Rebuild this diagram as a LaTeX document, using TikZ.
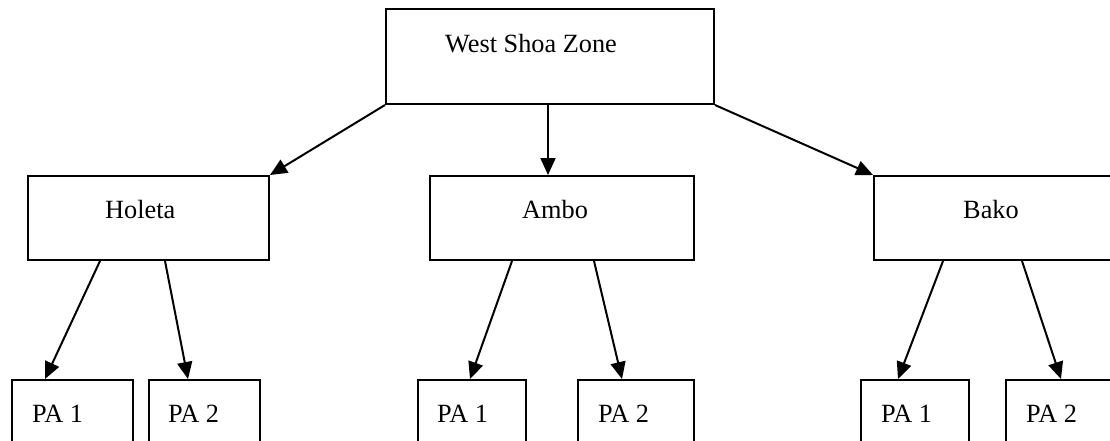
\documentclass[tikz,border=0pt]{standalone}
\usepackage{fontspec}
\setmainfont{Liberation Serif}
\usetikzlibrary{arrows.meta}
\begin{document}
\begin{tikzpicture}[x=1pt,y=-1pt,
  box/.style={draw=black,line width=2pt,inner sep=0pt,anchor=north west},
  lbl/.style={inner sep=0pt,anchor=base west,font=\fontsize{26.3}{30}\selectfont},
  conn/.style={line width=2pt,-{Triangle[length=17pt,width=15pt]}}]
\useasboundingbox (0,0) rectangle (1110,440);
\clip (0,0) rectangle (1110,440);
\fill[white] (0,0) rectangle (1110,440);
% boxes
\node[box,minimum width=328pt,minimum height=95pt] (ws) at (385,8) {};
\node[box,minimum width=241pt,minimum height=84pt] (holeta) at (27,175) {};
\node[box,minimum width=264pt,minimum height=84pt] (ambo) at (429,175) {};
\node[box,minimum width=245pt,minimum height=84pt] (bako) at (873,175) {};
\node[box,minimum width=121pt,minimum height=70pt] (h1) at (11,379) {};
\node[box,minimum width=111pt,minimum height=70pt] (h2) at (148,379) {};
\node[box,minimum width=108pt,minimum height=70pt] (a1) at (417,379) {};
\node[box,minimum width=116pt,minimum height=70pt] (a2) at (577,379) {};
\node[box,minimum width=108pt,minimum height=70pt] (b1) at (860,379) {};
\node[box,minimum width=113pt,minimum height=70pt] (b2) at (1005,379) {};
% labels
\node[lbl] (wst) at (445,52) {West Shoa Zone};
\node[lbl] (holetat) at (105,218) {Holeta};
\node[lbl] (ambot) at (522,218) {Ambo};
\node[lbl] (bakot) at (963,218) {Bako};
\node[lbl] (h1t) at (32,422) {PA 1};
\node[lbl] (h2t) at (168,422) {PA 2};
\node[lbl] (a1t) at (437,422) {PA 1};
\node[lbl] (a2t) at (598,422) {PA 2};
\node[lbl] (b1t) at (881,422) {PA 1};
\node[lbl] (b2t) at (1026,422) {PA 2};
% connectors
\draw[conn] (ws.south west) -- (holeta.north east);
\draw[conn] ([xshift=163pt]ws.south west) -- ([xshift=119pt]ambo.north west);
\draw[conn] (ws.south east) -- (bako.north west);
\draw[conn] ([xshift=73pt]holeta.south west) -- ([xshift=34pt]h1.north west);
\draw[conn] ([xshift=138pt]holeta.south west) -- ([xshift=40pt]h2.north west);
\draw[conn] ([xshift=83pt]ambo.south west) -- ([xshift=53pt]a1.north west);
\draw[conn] ([xshift=165pt]ambo.south west) -- ([xshift=45pt]a2.north west);
\draw[conn] ([xshift=70pt]bako.south west) -- ([xshift=38pt]b1.north west);
\draw[conn] ([xshift=149pt]bako.south west) -- ([xshift=56pt]b2.north west);
\end{tikzpicture}
\end{document}
